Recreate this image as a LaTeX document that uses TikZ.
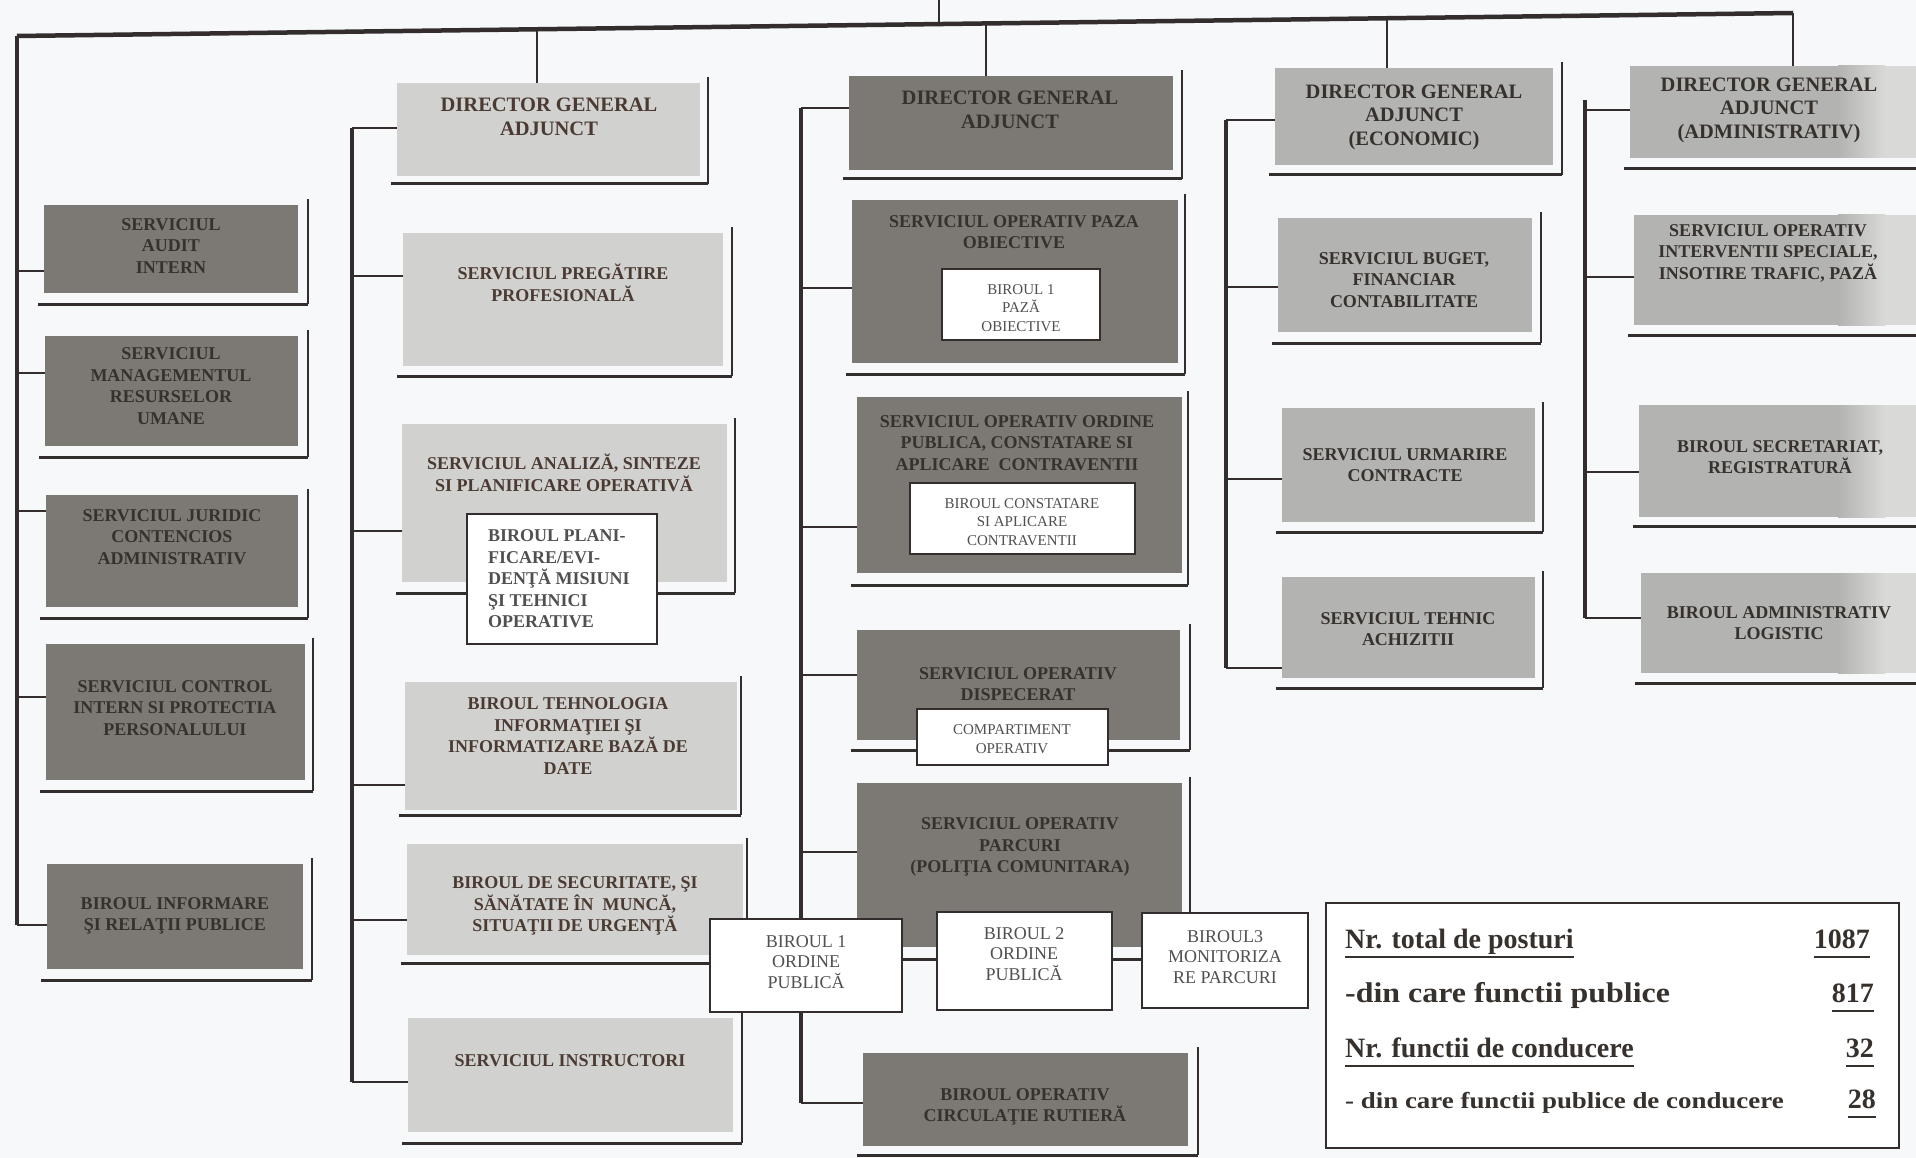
\documentclass[tikz,border=0pt]{standalone}
\usepackage{fontspec}
\setmainfont{Liberation Serif}
\newfontfamily\wideA[FakeStretch=1.12]{Liberation Serif}
\newfontfamily\wideB[FakeStretch=1.17]{Liberation Serif}
\usetikzlibrary{calc}
\pgfdeclarelayer{back}
\pgfdeclarelayer{lines}
\pgfsetlayers{back,lines,main}
\definecolor{bgc}{HTML}{F6F8F9}
\definecolor{darkfill}{HTML}{7C7975}
\definecolor{lightfill}{HTML}{D1D2D0}
\definecolor{midfill}{HTML}{B3B3B1}
\definecolor{edgefill}{HTML}{D9DAD8}
\definecolor{linec}{HTML}{332D2D}
\definecolor{txtdark}{HTML}{36312D}
\definecolor{txtlight}{HTML}{4A3A32}
\definecolor{txtwhite}{HTML}{505050}
\newcommand\mkbox[6]{\node[#2,anchor=north west,minimum width={#5-#3},minimum height={#6-#4}] (#1) at (#3,#4) {};}
\newcommand\mkshadow[3]{%
 \draw[shr] ([xshift=#2pt,yshift=6pt]#1.north east) -- ([xshift=#2pt,yshift=-#3pt]#1.south east);
 \draw[shb] ([xshift=#2pt,yshift=-#3pt]#1.south east) -- ([xshift=-6pt,yshift=-#3pt]#1.south west);}
\newcommand\stubto[3]{\draw[stub] (#1 |- 0,#3) -- (#2.west |- 0,#3);}
\begin{document}
\begin{tikzpicture}[x=1pt,y=-1pt,
 bus/.style={draw=linec,line width=4.5pt},
 stub/.style={draw=linec,line width=2.5pt},
 conn/.style={draw=linec,line width=2pt},
 shr/.style={draw=linec,line width=2pt},
 shb/.style={draw=linec,line width=3pt},
 plainbox/.style={inner sep=0pt,outer sep=0pt,draw=none},
 dbox/.style={plainbox,fill=darkfill},
 lbox/.style={plainbox,fill=lightfill},
 mbox/.style={plainbox,fill=midfill},
 wbox/.style={inner sep=0pt,outer sep=0pt,fill=white,draw=linec,line width=2pt},
 lab/.style={inner sep=0pt,align=center,font=\fontsize{18}{21.5}\selectfont\bfseries,text=txtdark},
 labl/.style={lab,text=txtlight},
 dirlab/.style={lab,font=\fontsize{20.5}{23.5}\selectfont\bfseries},
 wlab/.style={inner sep=0pt,align=center,font=\fontsize{15}{18.5}\selectfont,text=txtwhite},
 blab/.style={inner sep=0pt,align=center,font=\fontsize{18}{20.5}\selectfont,text=txtwhite},
 tlab/.style={inner sep=0pt,anchor=base west,font=\fontsize{28}{30}\selectfont\bfseries,text=txtdark},
 tnum/.style={inner sep=0pt,anchor=base east,font=\fontsize{28}{30}\selectfont\bfseries,text=txtdark},
 uline/.style={draw=txtdark,line width=2.5pt}
]
\begin{pgfonlayer}{back}
\fill[bgc] (0,0) rectangle (1916,1158);
\end{pgfonlayer}
\useasboundingbox (0,0) rectangle (1916,1158);

% ---------- gray boxes ----------
\mkbox{A1}{dbox}{44}{205}{298}{293}
\mkbox{A2}{dbox}{45}{336}{298}{446}
\mkbox{A3}{dbox}{46}{495}{298}{607}
\mkbox{A4}{dbox}{46}{644}{305}{780}
\mkbox{A5}{dbox}{47}{864}{303}{969}

\mkbox{B0}{lbox}{397}{83}{700}{176}
\mkbox{B1}{lbox}{403}{233}{723}{366}
\mkbox{B2}{lbox}{402}{424}{727}{582}
\mkbox{B3}{lbox}{405}{682}{737}{810}
\mkbox{B4}{lbox}{407}{844}{743}{955}
\mkbox{B5}{lbox}{408}{1018}{733}{1132}

\mkbox{C0}{dbox}{849}{76}{1173}{170}
\mkbox{C1}{dbox}{852}{200}{1178}{363}
\mkbox{C2}{dbox}{857}{397}{1182}{573}
\mkbox{C3}{dbox}{857}{630}{1180}{740}
\mkbox{C4}{dbox}{857}{783}{1182}{947}
\mkbox{C5}{dbox}{863}{1053}{1188}{1146}

\mkbox{D0}{mbox}{1275}{68}{1553}{165}
\mkbox{D1}{mbox}{1278}{218}{1532}{332}
\mkbox{D2}{mbox}{1282}{408}{1535}{522}
\mkbox{D3}{mbox}{1282}{577}{1535}{678}

\mkbox{E0}{mbox}{1630}{66}{1916}{158}
\mkbox{E1}{mbox}{1634}{215}{1916}{325}
\mkbox{E2}{mbox}{1639}{405}{1916}{517}
\mkbox{E3}{mbox}{1641}{573}{1916}{673}
\foreach \n in {E0,E1,E2,E3}{
  \shade[left color=midfill,right color=edgefill] (\n.north west -| 1838,0) rectangle (\n.south east -| 1885,0);
  \fill[edgefill] (\n.north west -| 1885,0) rectangle (\n.south east);
}

% ---------- white boxes ----------
\mkbox{B2i}{wbox}{467}{514}{657}{644}
\mkbox{C1i}{wbox}{942}{269}{1100}{340}
\mkbox{C2i}{wbox}{910}{483}{1135}{554}
\mkbox{C3i}{wbox}{917}{709}{1108}{765}
\mkbox{P1}{wbox}{710}{919}{902}{1012}
\mkbox{P2}{wbox}{937}{912}{1112}{1010}
\mkbox{P3}{wbox}{1142}{913}{1308}{1008}
\mkbox{T}{wbox}{1326}{903}{1899}{1148}

% ---------- lines ----------
\begin{pgfonlayer}{lines}
\coordinate (top) at (939,0);
\coordinate (busA) at (17,36);
\coordinate (mR) at (1793,13);
\coordinate (jT) at (939,24.5);
\coordinate (jB) at (537,29.3);
\coordinate (jC) at (986,23.5);
\coordinate (jD) at (1387,18.3);
\coordinate (busB) at (352,128);
\coordinate (busC) at (801,108);
\coordinate (busD) at (1226,120);
\coordinate (busE) at (1585,100);

\draw[bus] (busA) -- (mR);
\draw[conn] (top) -- (jT);
\draw[conn] (jB) -- (jB |- B0.north);
\draw[conn] (jC) -- (jC |- C0.north);
\draw[conn] (jD) -- (jD |- D0.north);
\draw[conn] (mR) -- (mR |- E0.north);

\draw[bus] (busA) -- (busA |- 0,925);
\stubto{busA}{A1}{271}
\stubto{busA}{A2}{373}
\stubto{busA}{A3}{511}
\stubto{busA}{A4}{697}
\stubto{busA}{A5}{925}

\draw[bus] (busB) -- (busB |- 0,1082);
\stubto{busB}{B0}{128}
\stubto{busB}{B1}{276}
\stubto{busB}{B2}{531}
\stubto{busB}{B3}{785}
\stubto{busB}{B4}{920}
\stubto{busB}{B5}{1082}

\draw[bus] (busC) -- (busC |- 0,1103);
\stubto{busC}{C0}{108}
\stubto{busC}{C1}{288}
\stubto{busC}{C2}{527}
\stubto{busC}{C3}{675}
\stubto{busC}{C4}{852}
\stubto{busC}{C5}{1103}

\draw[bus] (busD) -- (busD |- 0,668);
\stubto{busD}{D0}{120}
\stubto{busD}{D1}{287}
\stubto{busD}{D2}{479}
\stubto{busD}{D3}{668}

\draw[bus] (busE) -- (busE |- 0,618);
\stubto{busE}{E0}{110}
\stubto{busE}{E1}{277}
\stubto{busE}{E2}{472}
\stubto{busE}{E3}{618}

% shadows
\mkshadow{A1}{10}{11}
\mkshadow{A2}{10}{11}
\mkshadow{A3}{10}{11}
\mkshadow{A4}{8}{11}
\mkshadow{A5}{9}{11}
\mkshadow{B0}{8}{8}
\mkshadow{B1}{9}{10}
\mkshadow{B2}{8}{11}
\mkshadow{B3}{4}{5}
\mkshadow{B4}{4}{8}
\mkshadow{B5}{9}{11}
\mkshadow{C0}{9}{9}
\mkshadow{C1}{7}{11}
\mkshadow{C2}{6}{12}
\mkshadow{C3}{10}{10}
\mkshadow{C4}{8}{12}
\mkshadow{C5}{10}{9}
\mkshadow{D0}{9}{10}
\mkshadow{D1}{9}{11}
\mkshadow{D2}{8}{10}
\mkshadow{D3}{8}{10}
\mkshadow{E0}{9}{11}
\mkshadow{E1}{9}{10}
\mkshadow{E2}{9}{9}
\mkshadow{E3}{9}{10}
\end{pgfonlayer}

% ---------- texts ----------
\node[lab] (tA1) at (171,246) {SERVICIUL\\AUDIT\\INTERN};
\node[lab] (tA2) at (171,386) {SERVICIUL\\MANAGEMENTUL\\RESURSELOR\\UMANE};
\node[lab] (tA3) at (172,537) {SERVICIUL JURIDIC\\CONTENCIOS\\ADMINISTRATIV};
\node[lab] (tA4) at (175,708) {SERVICIUL CONTROL\\INTERN SI PROTECTIA\\PERSONALULUI};
\node[lab] (tA5) at (175,916) {BIROUL INFORMARE\\ŞI RELAŢII PUBLICE};

\node[dirlab,text=txtlight] (tB0) at (549,117) {DIRECTOR GENERAL\\ADJUNCT};
\node[labl] (tB1) at (563,283) {SERVICIUL PREGĂTIRE\\PROFESIONALĂ};
\node[labl] (tB2) at (564,473) {SERVICIUL ANALIZĂ, SINTEZE\\SI PLANIFICARE OPERATIVĂ};
\node[lab,align=left,anchor=west,text=txtwhite] (tB2i) at (488,579) {BIROUL PLANI-\\FICARE/EVI-\\DENŢĂ MISIUNI\\ŞI TEHNICI\\OPERATIVE};
\node[labl] (tB3) at (568,736) {BIROUL TEHNOLOGIA\\INFORMAŢIEI ŞI\\INFORMATIZARE BAZĂ DE\\DATE};
\node[labl] (tB4) at (575,906) {BIROUL DE SECURITATE, ŞI\\SĂNĂTATE ÎN\ \ MUNCĂ,\\SITUAŢII DE URGENŢĂ};
\node[labl] (tB5) at (570,1061) {SERVICIUL INSTRUCTORI};

\node[dirlab] (tC0) at (1010,110) {DIRECTOR GENERAL\\ADJUNCT};
\node[lab] (tC1) at (1014,232) {SERVICIUL OPERATIV PAZA\\OBIECTIVE};
\node[wlab] (tC1i) at (1021,308) {BIROUL 1\\PAZĂ\\OBIECTIVE};
\node[lab] (tC2) at (1017,443) {SERVICIUL OPERATIV ORDINE\\PUBLICA, CONSTATARE SI\\APLICARE\ \ CONTRAVENTII};
\node[wlab] (tC2i) at (1022,522) {BIROUL CONSTATARE\\SI APLICARE\\CONTRAVENTII};
\node[lab] (tC3) at (1018,684) {SERVICIUL OPERATIV\\DISPECERAT};
\node[wlab] (tC3i) at (1012,739) {COMPARTIMENT\\OPERATIV};
\node[lab] (tC4) at (1020,847) {SERVICIUL OPERATIV\\PARCURI\\(POLIŢIA COMUNITARA)};
\node[blab] (tP1) at (806,962) {BIROUL 1\\ORDINE\\PUBLICĂ};
\node[blab] (tP2) at (1024,954) {BIROUL 2\\ORDINE\\PUBLICĂ};
\node[blab] (tP3) at (1225,957) {BIROUL3\\MONITORIZA\\RE PARCURI};
\node[lab] (tC5) at (1025,1107) {BIROUL OPERATIV\\CIRCULAŢIE RUTIERĂ};

\node[dirlab] (tD0) at (1414,117) {DIRECTOR GENERAL\\ADJUNCT\\(ECONOMIC)};
\node[lab] (tD1) at (1404,280) {SERVICIUL BUGET,\\FINANCIAR\\CONTABILITATE};
\node[lab] (tD2) at (1405,465) {SERVICIUL URMARIRE\\CONTRACTE};
\node[lab] (tD3) at (1408,629) {SERVICIUL TEHNIC\\ACHIZITII};

\node[dirlab] (tE0) at (1769,110) {DIRECTOR GENERAL\\ADJUNCT\\(ADMINISTRATIV)};
\node[lab] (tE1) at (1768,253) {SERVICIUL OPERATIV\\INTERVENTII SPECIALE,\\INSOTIRE TRAFIC, PAZĂ};
\node[lab] (tE2) at (1780,457) {BIROUL SECRETARIAT,\\REGISTRATURĂ};
\node[lab] (tE3) at (1779,623) {BIROUL ADMINISTRATIV\\LOGISTIC};

% ---------- table ----------
\node[tlab] (r1) at (1345,948) {Nr. total de posturi};
\node[tnum] (n1) at (1870,948) {1087};
\node[tlab,font=\wideA\fontsize{28.5}{30}\selectfont\bfseries] (r2) at (1345,1002) {-din care functii publice};
\node[tnum] (n2) at (1874,1002) {817};
\node[tlab] (r3) at (1345,1057) {Nr. functii de conducere};
\node[tnum] (n3) at (1874,1057) {32};
\node[tlab,font=\wideB\fontsize{23}{25}\selectfont\bfseries] (r4) at (1345,1108) {- din care functii publice de conducere};
\node[tnum] (n4) at (1876,1108) {28};
\foreach \u in {r1,r3,n1,n2,n3,n4}{
  \draw[uline] ([yshift=-9pt]\u.base west) -- ([yshift=-9pt]\u.base east);
}
\end{tikzpicture}
\end{document}
